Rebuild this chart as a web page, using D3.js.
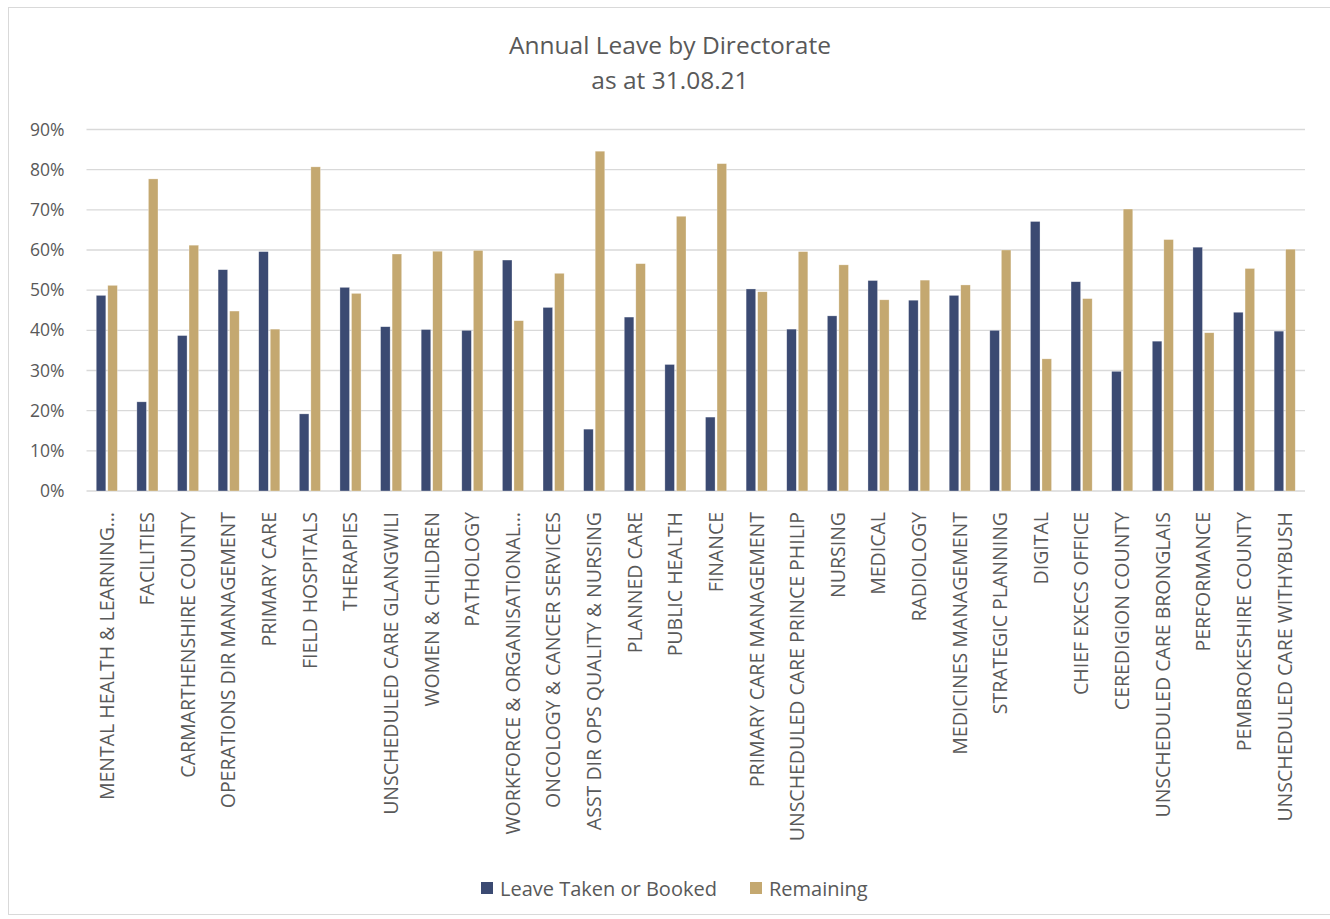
<!DOCTYPE html>
<html>
<head>
<meta charset="utf-8">
<script src="https://cdn.jsdelivr.net/npm/d3@7"></script>
<style>
  body { margin: 0; background: #fff; }
  text { font-family: 'Open Sans', sans-serif; }
</style>
</head>
<body>
<div id="chart"></div>
<script>
const directorates = [
  'MENTAL HEALTH & LEARNING…', 'FACILITIES', 'CARMARTHENSHIRE COUNTY', 'OPERATIONS DIR MANAGEMENT',
  'PRIMARY CARE', 'FIELD HOSPITALS', 'THERAPIES', 'UNSCHEDULED CARE GLANGWILI', 'WOMEN & CHILDREN',
  'PATHOLOGY', 'WORKFORCE & ORGANISATIONAL…', 'ONCOLOGY & CANCER SERVICES', 'ASST DIR OPS QUALITY & NURSING',
  'PLANNED CARE', 'PUBLIC HEALTH', 'FINANCE', 'PRIMARY CARE MANAGEMENT', 'UNSCHEDULED CARE PRINCE PHILIP',
  'NURSING', 'MEDICAL', 'RADIOLOGY', 'MEDICINES MANAGEMENT', 'STRATEGIC PLANNING', 'DIGITAL',
  'CHIEF EXECS OFFICE', 'CEREDIGION COUNTY', 'UNSCHEDULED CARE BRONGLAIS', 'PERFORMANCE',
  'PEMBROKESHIRE COUNTY', 'UNSCHEDULED CARE WITHYBUSH'
]

const leaveTaken = [
  48.7, 22.2, 38.7, 55.1, 59.6, 19.2, 50.7, 40.9, 40.2, 40.0,
  57.5, 45.7, 15.4, 43.3, 31.5, 18.4, 50.3, 40.3, 43.6, 52.4,
  47.5, 48.7, 40.0, 67.1, 52.1, 29.8, 37.3, 60.7, 44.5, 39.8
]

const remaining = [
  51.2, 77.7, 61.2, 44.8, 40.3, 80.7, 49.2, 59.0, 59.7, 59.9,
  42.4, 54.2, 84.6, 56.6, 68.4, 81.5, 49.6, 59.6, 56.3, 47.6,
  52.5, 51.3, 60.0, 32.9, 47.9, 70.2, 62.6, 39.4, 55.4, 60.2
]

const seriesNames = ['Leave Taken or Booked', 'Remaining']
const colors = ['#3b4a72', '#c4a870']
const yTicks = [0, 10, 20, 30, 40, 50, 60, 70, 80, 90]

const fullWidth = 1330
const fullHeight = 919
const margin = { top: 129.5, left: 86.5, right: 25, bottom: 428 }
const width = fullWidth - margin.left - margin.right
const height = fullHeight - margin.top - margin.bottom

const root = d3.select('#chart')
  .append('svg')
  .attr('width', fullWidth)
  .attr('height', fullHeight)

// outer chart border
root.append('rect')
  .attr('x', 8.5)
  .attr('y', 7.5)
  .attr('width', 1340)
  .attr('height', 907)
  .attr('fill', 'none')
  .attr('stroke', '#d9d9d9')
  .attr('stroke-width', 1)

// title
root.append('text')
  .attr('x', 670)
  .attr('y', 54)
  .attr('text-anchor', 'middle')
  .attr('font-size', 24.5)
  .attr('fill', '#595959')
  .text('Annual Leave by Directorate')

root.append('text')
  .attr('x', 670)
  .attr('y', 89)
  .attr('text-anchor', 'middle')
  .attr('font-size', 24.5)
  .attr('fill', '#595959')
  .text('as at 31.08.21')

const svg = root.append('g')
  .attr('transform', 'translate(' + margin.left + ',' + margin.top + ')')

const xScale = d3.scaleBand()
  .domain(directorates)
  .range([0, width])
  .paddingInner(0.48)
  .paddingOuter(0.24)

const xSeries = d3.scaleBand()
  .domain([0, 1])
  .range([0, xScale.bandwidth()])
  .paddingInner(0.17)

const yScale = d3.scaleLinear()
  .domain([0, 90])
  .range([height, 0])

// gridlines
svg.append('g')
  .selectAll('line')
  .data(yTicks)
  .enter().append('line')
  .attr('x1', 0)
  .attr('x2', width)
  .attr('y1', d => yScale(d))
  .attr('y2', d => yScale(d))
  .attr('stroke', '#d9d9d9')
  .attr('stroke-width', 1.3)

// y labels
const yAxis = d3.axisLeft(yScale)
  .tickValues(yTicks)
  .tickFormat(d => d + '%')
  .tickSize(0)
  .tickPadding(22)

svg.append('g')
  .attr('class', 'axis y-axis')
  .call(yAxis)
  .call(g => g.select('.domain').remove())
  .selectAll('text')
  .attr('font-family', 'Open Sans')
  .attr('font-size', 17.5)
  .attr('fill', '#595959')

// bars
const rows = directorates.map((name, i) => ({ name, values: [leaveTaken[i], remaining[i]] }))

const groups = svg.append('g')
  .selectAll('g')
  .data(rows)
  .enter().append('g')
  .attr('transform', d => 'translate(' + xScale(d.name) + ',0)')

groups.selectAll('rect')
  .data(d => d.values.map((v, k) => ({ k, v })))
  .enter().append('rect')
  .attr('x', d => xSeries(d.k))
  .attr('width', xSeries.bandwidth())
  .attr('y', d => yScale(d.v))
  .attr('height', d => height - yScale(d.v))
  .attr('fill', d => colors[d.k])
  .attr('stroke', '#ffffff')
  .attr('stroke-opacity', 0.5)
  .attr('stroke-width', 0.6)

// x labels
const xAxis = d3.axisBottom(xScale).tickSize(0).tickPadding(0)

svg.append('g')
  .attr('class', 'axis x-axis')
  .attr('transform', 'translate(0,' + height + ')')
  .call(xAxis)
  .call(g => g.select('.domain').remove())
  .selectAll('text')
  .attr('font-family', 'Open Sans')
  .attr('font-size', 19.5)
  .attr('fill', '#595959')
  .attr('text-anchor', 'end')
  .attr('dy', '0.35em')
  .attr('transform', 'translate(0,21) rotate(-90)')

// legend
const legendX = [481, 750]
const legend = root.append('g')
  .selectAll('g')
  .data(seriesNames)
  .enter().append('g')
  .attr('transform', (d, i) => 'translate(' + legendX[i] + ',882)')

legend.append('rect')
  .attr('width', 12)
  .attr('height', 12)
  .attr('fill', (d, i) => colors[i])

legend.append('text')
  .attr('x', 19)
  .attr('y', 13.5)
  .attr('font-size', 20)
  .attr('fill', '#595959')
  .text(d => d)
</script>
</body>
</html>
